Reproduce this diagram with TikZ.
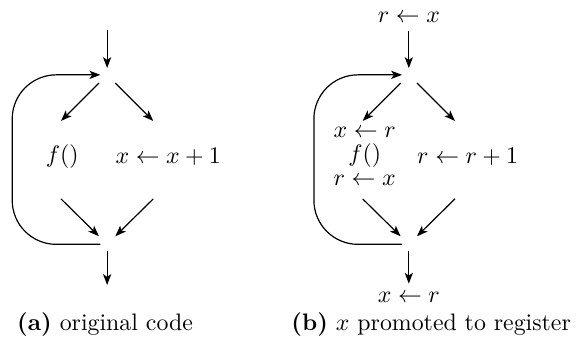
\documentclass[tikz,border=0pt]{standalone}
\usetikzlibrary{arrows.meta}
\begin{document}
\begin{tikzpicture}
    \tikzset{stmt/.style = {inner sep = .3333em}, stack/.style = {inner sep = 0pt,align=center}, flow/.style = {line width=.5pt,-{Stealth[length=1.6mm,width=1.2mm,inset=.4mm]}}}
    \useasboundingbox (0,0) rectangle (8.496,5.074);
    % (a) original code
    \def\x{1.58}
    \def\y{0}
     \coordinate (in1) at (\x,\y+4.63);
     \coordinate (s1) at (\x,\y+3.97);
     \coordinate (m1) at (\x,\y+1.47);
     \coordinate (out1) at (\x,\y+0.87);
     \coordinate (a1) at (\x-0.68,\y+3.29);
     \coordinate (b1) at (\x+0.68,\y+3.29);
     \coordinate (c1) at (\x-0.68,\y+2.14);
     \coordinate (d1) at (\x+0.68,\y+2.14);
     \node[stmt] (f1) at (\x-0.66,\y+2.76) {$f()$};
     \node[stmt,anchor=west] (inc1) at (\x,\y+2.76) {$x \leftarrow x+1$};
     \node[stmt] (capa) at (\x-0.03,\y+0.28) {\textbf{(a)} original code};

     \draw[flow,shorten >=1mm](in1) --(s1);
     \draw[flow,shorten <=1.7mm](s1) --(a1);
     \draw[flow,shorten <=1.7mm](s1) --(b1);
     \draw[flow,shorten >=1.7mm](c1) --(m1);
     \draw[flow,shorten >=1.7mm](d1) --(m1);
     \draw[flow,shorten <=1mm](m1) --(out1);
     \draw[flow,rounded corners=.65cm,shorten <=1mm,shorten >=1mm](m1) -| (\x-1.4,\y+3.97) --(s1);

    % (b) x promoted to register
    \def\x{6.03}
     \coordinate (s2) at (\x,\y+3.97);
     \coordinate (m2) at (\x,\y+1.47);
     \coordinate (a2) at (\x-0.68,\y+3.29);
     \coordinate (b2) at (\x+0.68,\y+3.29);
     \coordinate (c2) at (\x-0.68,\y+2.14);
     \coordinate (d2) at (\x+0.68,\y+2.14);
     \node[stmt] (top2) at (\x,\y+4.82) {$r \leftarrow x$};
     \node[stmt] (bot2) at (\x,\y+0.69) {$x \leftarrow r$};
     \node[stack] (f2) at (\x-0.65,\y+2.77) {$x \leftarrow r$\\[-2pt]$f()$\\[-1.8pt]$r \leftarrow x$};
     \node[stmt,anchor=west] (inc2) at (\x,\y+2.76) {$r \leftarrow r+1$};
     \node[stmt] (capb) at (\x+0.33,\y+0.28) {\textbf{(b)} $x$ promoted to register};

     \draw[flow,shorten >=1mm](top2) --(s2);
     \draw[flow,shorten <=1.7mm](s2) --(a2);
     \draw[flow,shorten <=1.7mm](s2) --(b2);
     \draw[flow,shorten >=1.7mm](c2) --(m2);
     \draw[flow,shorten >=1.7mm](d2) --(m2);
     \draw[flow,shorten <=1mm](m2) --(bot2);
     \draw[flow,rounded corners=.65cm,shorten <=1mm,shorten >=1mm](m2) -| (\x-1.4,\y+3.97) --(s2);
\end{tikzpicture}
\end{document}
